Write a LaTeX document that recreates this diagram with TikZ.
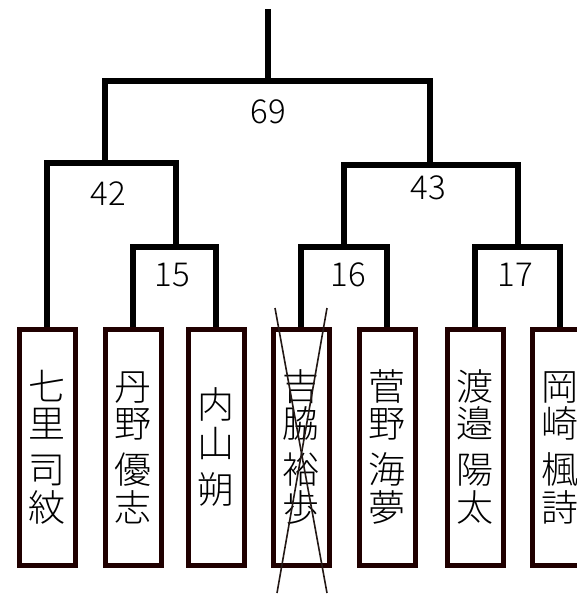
\documentclass[tikz,border=0pt]{standalone}
\usepackage{fontspec}
\IfFontExistsTF{Noto Sans CJK JP Light}
  {\newfontfamily\cjk{Noto Sans CJK JP Light}}
  {\newfontfamily\cjk{Noto Sans CJK JP}}
\definecolor{boxline}{RGB}{32,0,0}
\definecolor{crossline}{RGB}{35,24,21}
\begin{document}
\begin{tikzpicture}[x=1pt,y=-1pt,
  namebox/.style={draw=boxline, line width=5pt, fill=white, minimum width=56pt,
    minimum height=236pt, inner sep=0pt},
  namechar/.style={font=\cjk\fontsize{37}{37}\selectfont, inner sep=0pt,
    text height=31pt, text depth=4pt},
  bracket/.style={draw=black, line width=6pt, line join=miter},
  score/.style={font=\cjk\fontsize{33}{33}\selectfont, inner sep=0pt},
  crossout/.style={draw=crossline, line width=1.6pt}]
\useasboundingbox (0,0) rectangle (576,594);
% name boxes with four-character names
\foreach \i/\x/\ca/\cb/\cc/\cd in {1/47/七/里/司/紋, 2/133/丹/野/優/志,
    4/301/吉/脇/裕/歩, 5/387/菅/野/海/夢, 6/475/渡/邉/陽/太, 7/560/岡/崎/楓/詩}{
  \node[namebox] (b\i) at (\x,447.5) {};
  \node[namechar] (n\i-1) at (\x,387) {\ca};
  \node[namechar] (n\i-2) at (\x,424) {\cb};
  \node[namechar] (n\i-3) at (\x,470) {\cc};
  \node[namechar] (n\i-4) at (\x,508) {\cd};
}
% name box with a three-character name
\node[namebox] (b3) at (216,447.5) {};
\node[namechar] (n3-1) at (216,405) {内};
\node[namechar] (n3-2) at (216,444) {山};
\node[namechar] (n3-3) at (216,490) {朔};
% bracket joints
\coordinate (c15) at (176,247);
\coordinate (c16) at (344,247);
\coordinate (c17) at (518,247);
\coordinate (c42) at (105,163);
\coordinate (c43) at (430,165);
\coordinate (c69) at (268,81);
\coordinate (top) at (268,9);
% brackets
\draw[bracket] (b2.north) |- (c15) -| (b3.north);
\draw[bracket] (b4.north) |- (c16) -| (b5.north);
\draw[bracket] (b6.north) |- (c17) -| (b7.north);
\draw[bracket] (b1.north) |- (c42) -| (c15);
\draw[bracket] (c16) |- (c43) -| (c17);
\draw[bracket] (c42) |- (c69) -| (c43);
\draw[bracket] (c69) -- (top);
% scores
\node[score] (l69) at (268,112) {69};
\node[score] (l42) at (108,194) {42};
\node[score] (l43) at (428,188) {43};
\node[score] (l15) at (172,275) {15};
\node[score] (l16) at (348,275) {16};
\node[score] (l17) at (515,275) {17};
% cross-out
\coordinate (x1) at (275,308);
\coordinate (x2) at (327,593);
\coordinate (x3) at (327,308);
\coordinate (x4) at (277,593);
\draw[crossout] (x1) -- (x2);
\draw[crossout] (x3) -- (x4);
\end{tikzpicture}
\end{document}
